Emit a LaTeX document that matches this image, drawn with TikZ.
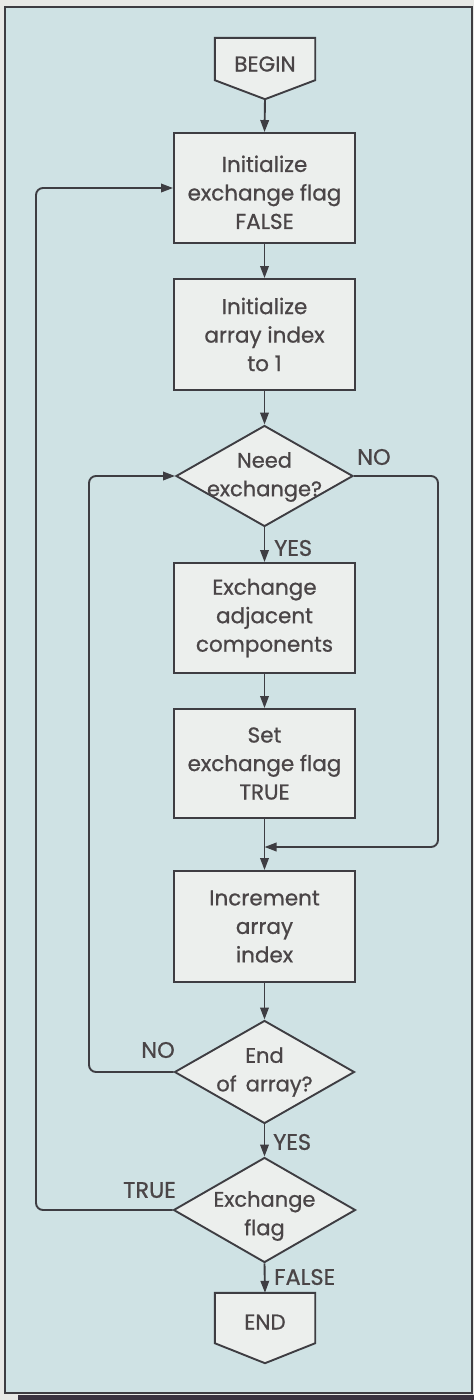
\documentclass[tikz,border=0pt]{standalone}
\usepackage{fontspec}
\setmainfont{Poppins}[FakeBold=0.8]
\usetikzlibrary{arrows.meta,calc,backgrounds,shapes.geometric}

\definecolor{paper}{HTML}{E8E9E6}
\definecolor{panel}{HTML}{CFE2E4}
\definecolor{boxfill}{HTML}{ECEFED}
\definecolor{ink}{HTML}{3E3D42}
\definecolor{textink}{HTML}{4A4547}
\definecolor{rim}{HTML}{3A3340}

\begin{document}
\begin{tikzpicture}[x=1pt,y=-1pt,
  every node/.style={font=\fontsize{21.5}{28.5}\selectfont, text=textink},
  line/.style={draw=ink, line width=1.9pt},
  flow/.style={line, -{Triangle[length=12pt,width=8.5pt]}},
  process/.style={line, fill=boxfill, minimum width=181pt, align=center, inner sep=0pt},
  decision/.style={line, fill=boxfill, diamond, inner sep=0pt},
  termbody/.style={minimum width=100pt, inner sep=0pt},
  midtext/.style={align=center, inner sep=0pt, font=\fontsize{21}{28.5}\selectfont},
  tag/.style={inner sep=0pt, font=\fontsize{22.5}{27}\selectfont}
]
% sheet and panel
\begin{scope}[on background layer]
  \fill[paper] (0,0) rectangle (474,1400);
  \fill[rim] (18,1394.5) rectangle (474,1400);
  \filldraw[fill=panel, draw=ink, line width=1.4pt] (5,7) rectangle (472,1393);
\end{scope}

% start and end terminals (body nodes; outline drawn below)
\node[termbody, minimum height=42pt, label={[inner sep=0pt, yshift=-5pt]center:BEGIN}] (begin) at (265,59) {};
\coordinate (begintip) at ($(begin.south)+(0,19)$);
\node[termbody, minimum height=50pt, label={[inner sep=0pt, yshift=-4pt]center:END}] (end) at (265,1318) {};
\coordinate (endtip) at ($(end.south)+(0,20)$);
\begin{scope}[on background layer]
  \filldraw[line, fill=boxfill] (begin.north west) -- (begin.north east) -- (begin.south east) -- (begintip) -- (begin.south west) -- cycle;
  \filldraw[line, fill=boxfill] (end.north west) -- (end.north east) -- (end.south east) -- (endtip) -- (end.south west) -- cycle;
\end{scope}

% process boxes
\node[process, minimum height=110pt] (initflag) at (264.5,188) {\rule{0pt}{25pt}Initialize\\exchange flag\\FALSE};
\node[process, minimum height=111pt] (initidx) at (264.5,334.5) {Initialize\\array index\\to 1};
\node[process, minimum height=110pt] (swap) at (264.5,618) {Exchange\\adjacent\\components};
\node[process, minimum height=109pt] (setflag) at (264.5,763.5) {Set\\exchange flag\\TRUE};
\node[process, minimum height=111pt] (incr) at (264.5,926.5) {Increment\\array\\index};

% decisions
\node[decision, minimum width=177pt, minimum height=101pt,
  label={[midtext, yshift=-1pt]center:Need\\exchange?}] (need) at (264.5,476) {};
\node[decision, minimum width=180pt, minimum height=103pt,
  label={[midtext]center:End\\of\, array?}] (last) at (264.5,1072) {};
\node[decision, minimum width=182pt, minimum height=105pt,
  label={[midtext, yshift=-6pt]center:Exchange\\flag}] (flag) at (264.5,1210) {};

% main line
\draw[flow] (begintip) -- (initflag.north);
\draw[flow] (initflag.south) -- (initidx.north);
\draw[flow] (initidx.south) -- (need.north);
\draw[flow] (need.south) -- (swap.north);
\draw[flow] (swap.south) -- (setflag.north);
\draw[flow] (setflag.south) -- (incr.north);
\draw[flow] (incr.south) -- (last.north);
\draw[flow] (last.south) -- (flag.north);
\draw[flow] (flag.south) -- (end.north);

% loop coordinates
\coordinate (rightturn) at (438,847);
\coordinate (merge) at (setflag.south |- rightturn);
\coordinate (innerleft) at (89,476);
\coordinate (outerleft) at (36,188);

% loops
\draw[flow, rounded corners=7pt] (need.east) -| (rightturn) -- (merge);
\draw[flow, rounded corners=7pt] (last.west) -| (innerleft) -- (need.west);
\draw[flow, rounded corners=7pt] (flag.west) -| (outerleft) -- (initflag.west);

% branch labels
\node[tag, anchor=west] (yes1) at (274,548) {YES};
\node[tag, anchor=west] (no1) at (357,457) {NO};
\node[tag, anchor=east] (no2) at (175,1050) {NO};
\node[tag, anchor=west] (yes2) at (273,1142) {YES};
\node[tag, anchor=east] (true) at (176,1190) {TRUE};
\node[tag, anchor=west] (false) at (274,1277) {FALSE};
\end{tikzpicture}
\end{document}
